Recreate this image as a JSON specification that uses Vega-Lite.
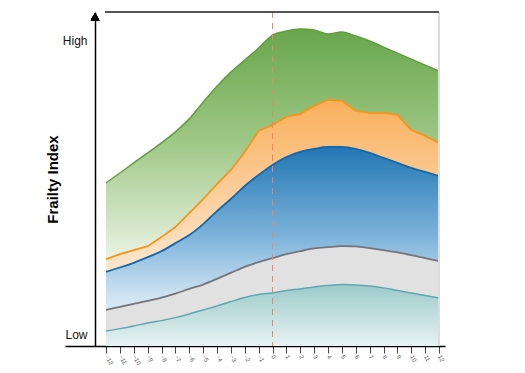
{
  "$schema": "https://vega.github.io/schema/vega-lite/v6.json",
  "width": 380,
  "height": 334,
  "padding": {"left": 65, "top": 12, "right": 80, "bottom": 27},
  "autosize": {"type": "none"},
  "background": "white",
  "config": {"view": {"stroke": null}, "font": "Liberation Sans"},
  "data": {"values": [
    {"t": -12, "green": 48.8, "orange": 26.0, "blue": 22.2, "gray": 10.8, "teal": 4.5},
    {"t": -11, "green": 51.8, "orange": 27.5, "blue": 23.5, "gray": 11.7, "teal": 5.2},
    {"t": -10, "green": 54.8, "orange": 28.7, "blue": 24.9, "gray": 12.6, "teal": 6.0},
    {"t": -9, "green": 57.8, "orange": 29.9, "blue": 26.6, "gray": 13.5, "teal": 6.9},
    {"t": -8, "green": 60.8, "orange": 32.6, "blue": 28.4, "gray": 14.5, "teal": 7.6},
    {"t": -7, "green": 64.1, "orange": 35.6, "blue": 30.8, "gray": 15.7, "teal": 8.5},
    {"t": -6, "green": 68.0, "orange": 39.8, "blue": 33.2, "gray": 17.1, "teal": 9.6},
    {"t": -5, "green": 73.0, "orange": 44.0, "blue": 36.5, "gray": 18.4, "teal": 10.8},
    {"t": -4, "green": 77.8, "orange": 48.5, "blue": 40.4, "gray": 20.1, "teal": 12.0},
    {"t": -3, "green": 82.0, "orange": 52.7, "blue": 44.0, "gray": 21.9, "teal": 13.3},
    {"t": -2, "green": 85.6, "orange": 58.1, "blue": 47.9, "gray": 23.7, "teal": 14.5},
    {"t": -1, "green": 89.2, "orange": 64.4, "blue": 51.2, "gray": 25.1, "teal": 15.4},
    {"t": 0, "green": 93.1, "orange": 66.2, "blue": 54.2, "gray": 26.3, "teal": 15.9},
    {"t": 1, "green": 94.3, "orange": 68.6, "blue": 56.6, "gray": 27.5, "teal": 16.6},
    {"t": 2, "green": 94.9, "orange": 69.5, "blue": 58.1, "gray": 28.4, "teal": 17.1},
    {"t": 3, "green": 94.6, "orange": 71.9, "blue": 59.0, "gray": 29.2, "teal": 17.7},
    {"t": 4, "green": 93.4, "orange": 73.7, "blue": 59.6, "gray": 29.6, "teal": 18.1},
    {"t": 5, "green": 94.0, "orange": 73.4, "blue": 59.6, "gray": 29.9, "teal": 18.4},
    {"t": 6, "green": 92.8, "orange": 70.4, "blue": 59.0, "gray": 29.8, "teal": 18.3},
    {"t": 7, "green": 91.3, "orange": 69.8, "blue": 57.8, "gray": 29.3, "teal": 18.0},
    {"t": 8, "green": 89.5, "orange": 69.8, "blue": 56.3, "gray": 28.7, "teal": 17.4},
    {"t": 9, "green": 87.7, "orange": 69.2, "blue": 54.8, "gray": 28.0, "teal": 16.6},
    {"t": 10, "green": 85.9, "orange": 64.7, "blue": 53.3, "gray": 27.2, "teal": 15.9},
    {"t": 11, "green": 84.1, "orange": 62.9, "blue": 52.1, "gray": 26.3, "teal": 15.1},
    {"t": 12, "green": 82.3, "orange": 60.8, "blue": 50.9, "gray": 25.4, "teal": 14.4}
  ]},
  "encoding": {
    "x": {"field": "t", "type": "quantitative",
      "scale": {"domain": [-14.955, 12.432], "nice": false, "zero": false},
      "axis": {"values": [-12,-11,-10,-9,-8,-7,-6,-5,-4,-3,-2,-1,0,1,2,3,4,5,6,7,8,9,10,11,12],
        "title": null, "grid": false, "domainColor": "#000", "domainWidth": 1.5,
        "tickColor": "#444", "tickSize": 7, "tickWidth": 1,
        "labelAngle": 60, "labelAlign": "left", "labelBaseline": "middle", "labelFontSize": 6,
        "labelColor": "#555", "labelPadding": 2, "labelFlush": false}}
  },
  "layer": [
    {"mark": {"type": "area", "interpolate": "monotone", "opacity": 1,
      "color": {"gradient": "linear", "x1": 0, "y1": 0, "x2": 0, "y2": 1,
        "stops": [{"offset": 0, "color": "#68a64c"}, {"offset": 0.35, "color": "#9dc784"}, {"offset": 0.72, "color": "#e9f2e3"}, {"offset": 1, "color": "#ffffff"}]},
      "line": {"color": "#5e9e3c", "strokeWidth": 1.5}},
     "encoding": {"y": {"field": "green", "type": "quantitative",
       "scale": {"domain": [0, 100], "nice": false},
       "axis": {"offset": -30, "values": [3.3, 91.6],
         "labelExpr": "datum.value < 50 ? 'Low' : 'High'",
         "domainColor": "#000", "domainWidth": 1.5, "ticks": false, "grid": false,
         "labelFontSize": 12, "labelColor": "#111", "labelPadding": 8,
         "title": "Frailty Index", "titleFontSize": 15, "titleFontWeight": "bold",
         "titleColor": "#000", "titlePadding": 2}}}},
    {"mark": {"type": "area", "interpolate": "linear", "opacity": 1,
      "color": {"gradient": "linear", "x1": 0, "y1": 0, "x2": 0, "y2": 1,
        "stops": [{"offset": 0, "color": "#f9af5c"}, {"offset": 0.6, "color": "#fde0c0"}, {"offset": 1, "color": "#fff6ee"}]},
      "line": {"color": "#f7941d", "strokeWidth": 1.8}},
     "encoding": {"y": {"field": "orange", "type": "quantitative"}}},
    {"mark": {"type": "area", "interpolate": "monotone", "opacity": 1,
      "color": {"gradient": "linear", "x1": 0, "y1": 0, "x2": 0, "y2": 1,
        "stops": [{"offset": 0, "color": "#2276b4"}, {"offset": 0.45, "color": "#7db3da"}, {"offset": 0.75, "color": "#cfe3f2"}, {"offset": 1, "color": "#f2f7fc"}]},
      "line": {"color": "#1268a8", "strokeWidth": 1.8}},
     "encoding": {"y": {"field": "blue", "type": "quantitative"}}},
    {"mark": {"type": "area", "interpolate": "monotone", "color": "#e1e1e1", "opacity": 1,
      "line": {"color": "#74747c", "strokeWidth": 1.8}},
     "encoding": {"y": {"field": "gray", "type": "quantitative"}}},
    {"mark": {"type": "area", "interpolate": "monotone", "opacity": 1,
      "color": {"gradient": "linear", "x1": 0, "y1": 0, "x2": 0, "y2": 1,
        "stops": [{"offset": 0, "color": "#9ccaca"}, {"offset": 1, "color": "#e8f2f3"}]},
      "line": {"color": "#5ea7ae", "strokeWidth": 1.5}},
     "encoding": {"y": {"field": "teal", "type": "quantitative"}}},
    {"mark": {"type": "rule", "color": "#f08464", "strokeDash": [6, 5], "strokeWidth": 1},
     "encoding": {"x": {"datum": 0}}},
    {"mark": {"type": "rule", "color": "#dddddd", "strokeWidth": 1.5},
     "encoding": {"x": {"datum": 12}}},
    {"mark": {"type": "rule", "color": "#555555", "strokeWidth": 1.5},
     "encoding": {"x": {"datum": -12.07}, "x2": {"datum": 12}, "y": {"datum": 100}}},
    {"mark": {"type": "point", "shape": "triangle-up", "filled": true, "color": "#000", "size": 70, "opacity": 1},
     "encoding": {"x": {"datum": -12.79}, "y": {"datum": 98.6}}}
  ]
}
